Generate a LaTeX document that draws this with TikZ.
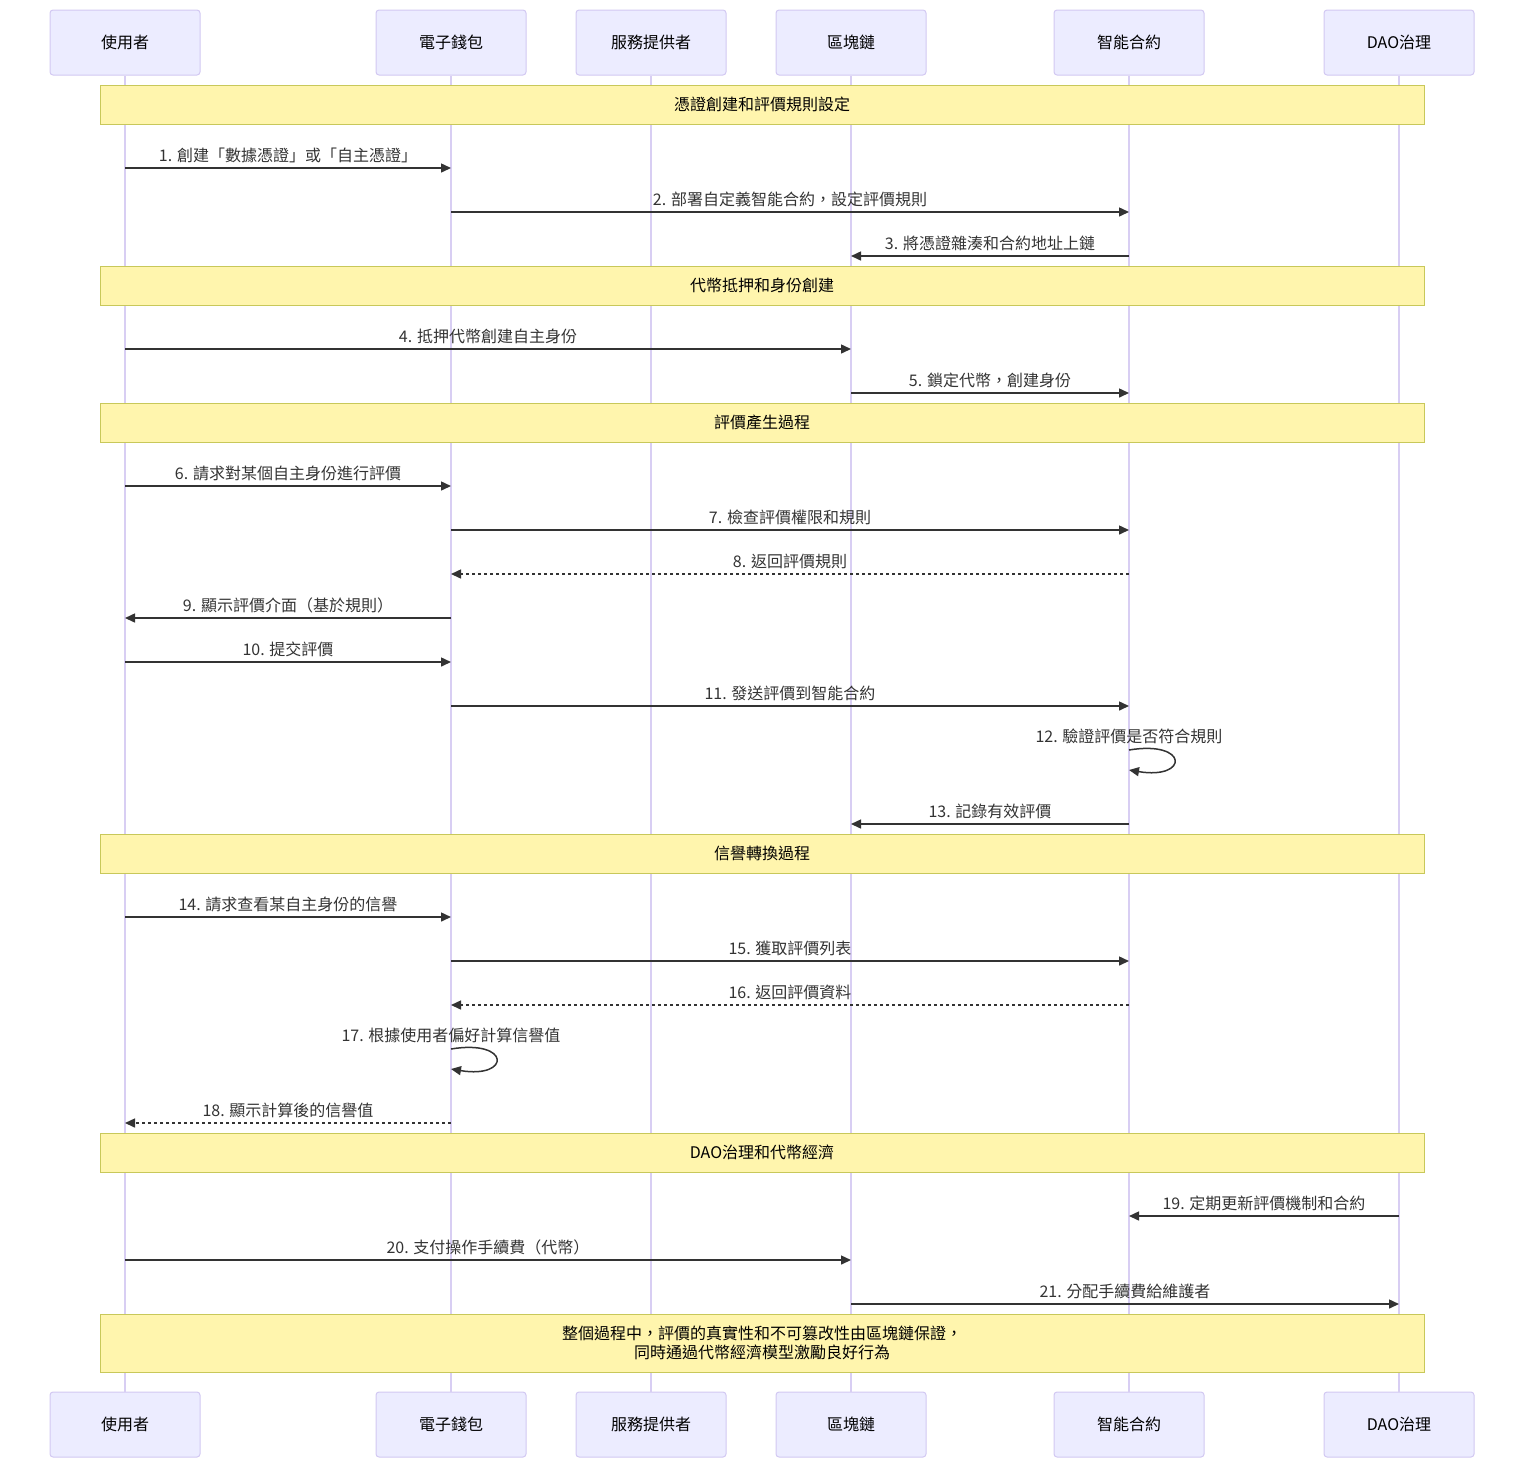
\documentclass[tikz,border=0pt]{standalone}
\usepackage{fontspec}
\setmainfont{Noto Sans CJK TC}
\usetikzlibrary{arrows.meta}
\definecolor{actfill}{HTML}{ECECFF}
\definecolor{actline}{HTML}{D2C8F2}
\definecolor{lifec}{HTML}{D8CEF3}
\definecolor{notefill}{HTML}{FFF5AD}
\definecolor{noteline}{HTML}{C8C85A}
\definecolor{msgc}{HTML}{333333}
\tikzset{
  actor/.style={draw=actline, fill=actfill, line width=1pt, rounded corners=3pt,
    minimum width=150pt, minimum height=65pt, inner sep=0pt,
    font=\fontsize{16}{19}\selectfont, text=black},
  lifeline/.style={draw=lifec, line width=1.2pt},
  notebox/.style={draw=noteline, fill=notefill, line width=1pt,
    minimum width=1324pt, inner sep=0pt, align=center,
    font=\fontsize{16}{19}\selectfont, text=black},
  msg/.style={draw=msgc, line width=1.5pt, -{Triangle[length=10pt,width=9pt]}},
  dmsg/.style={msg, dash pattern=on 3pt off 3pt},
  lbl/.style={font=\fontsize{16}{19}\selectfont, text=msgc, anchor=base, inner sep=0pt, yshift=7pt},
}
\begin{document}
\begin{tikzpicture}[x=1pt,y=1pt]
\useasboundingbox (0,0) rectangle (1524,-1468);
% participants top
\node[actor] (a1) at (125,-42.5) {使用者};
\node[actor] (a2) at (451,-42.5) {電子錢包};
\node[actor] (a3) at (651,-42.5) {服務提供者};
\node[actor] (a4) at (851,-42.5) {區塊鏈};
\node[actor] (a5) at (1129,-42.5) {智能合約};
\node[actor] (a6) at (1399,-42.5) {DAO治理};
% participants bottom
\node[actor] (b1) at (125,-1424.5) {使用者};
\node[actor] (b2) at (451,-1424.5) {電子錢包};
\node[actor] (b3) at (651,-1424.5) {服務提供者};
\node[actor] (b4) at (851,-1424.5) {區塊鏈};
\node[actor] (b5) at (1129,-1424.5) {智能合約};
\node[actor] (b6) at (1399,-1424.5) {DAO治理};
% lifelines
\foreach \i in {1,...,6} {\draw[lifeline] (a\i.south) -- (b\i.north);}
% notes
\node[notebox, minimum height=39pt] (n1) at (762,-104.5) {憑證創建和評價規則設定};
\node[notebox, minimum height=39pt] (n2) at (762,-285.5) {代幣抵押和身份創建};
\node[notebox, minimum height=39pt] (n3) at (762,-422.5) {評價產生過程};
\node[notebox, minimum height=39pt] (n4) at (762,-853.5) {信譽轉換過程};
\node[notebox, minimum height=39pt] (n5) at (762,-1152.5) {DAO治理和代幣經濟};
\node[notebox, minimum height=58pt] (n6) at (762,-1343) {整個過程中，評價的真實性和不可篡改性由區塊鏈保證，\\同時通過代幣經濟模型激勵良好行為};
% messages
\draw[msg] (a1 |- 0,-168) -- (a2 |- 0,-168) node[lbl, midway] {1. 創建「數據憑證」或「自主憑證」};
\draw[msg] (a2 |- 0,-212) -- (a5 |- 0,-212) node[lbl, midway] {2. 部署自定義智能合約，設定評價規則};
\draw[msg] (a5 |- 0,-256) -- (a4 |- 0,-256) node[lbl, midway] {3. 將憑證雜湊和合約地址上鏈};
\draw[msg] (a1 |- 0,-349) -- (a4 |- 0,-349) node[lbl, midway] {4. 抵押代幣創建自主身份};
\draw[msg] (a4 |- 0,-393) -- (a5 |- 0,-393) node[lbl, midway] {5. 鎖定代幣，創建身份};
\draw[msg] (a1 |- 0,-486) -- (a2 |- 0,-486) node[lbl, midway] {6. 請求對某個自主身份進行評價};
\draw[msg] (a2 |- 0,-530) -- (a5 |- 0,-530) node[lbl, midway] {7. 檢查評價權限和規則};
\draw[dmsg] (a5 |- 0,-574) -- (a2 |- 0,-574) node[lbl, midway] {8. 返回評價規則};
\draw[msg] (a2 |- 0,-618) -- (a1 |- 0,-618) node[lbl, midway] {9. 顯示評價介面（基於規則）};
\draw[msg] (a1 |- 0,-662) -- (a2 |- 0,-662) node[lbl, midway] {10. 提交評價};
\draw[msg] (a2 |- 0,-706) -- (a5 |- 0,-706) node[lbl, midway] {11. 發送評價到智能合約};
\coordinate (l12a) at (a5 |- 0,-750);
\coordinate (l12b) at (a5 |- 0,-770);
\node[lbl] (t12) at (a5 |- 0,-749) {12. 驗證評價是否符合規則};
\draw[msg] (l12a) .. controls +(60,10) and +(60,-10) .. (l12b);
\draw[msg] (a5 |- 0,-824) -- (a4 |- 0,-824) node[lbl, midway] {13. 記錄有效評價};
\draw[msg] (a1 |- 0,-917) -- (a2 |- 0,-917) node[lbl, midway] {14. 請求查看某自主身份的信譽};
\draw[msg] (a2 |- 0,-961) -- (a5 |- 0,-961) node[lbl, midway] {15. 獲取評價列表};
\draw[dmsg] (a5 |- 0,-1005) -- (a2 |- 0,-1005) node[lbl, midway] {16. 返回評價資料};
\coordinate (l17a) at (a2 |- 0,-1049);
\coordinate (l17b) at (a2 |- 0,-1069);
\node[lbl] (t17) at (a2 |- 0,-1048) {17. 根據使用者偏好計算信譽值};
\draw[msg] (l17a) .. controls +(60,10) and +(60,-10) .. (l17b);
\draw[dmsg] (a2 |- 0,-1123) -- (a1 |- 0,-1123) node[lbl, midway] {18. 顯示計算後的信譽值};
\draw[msg] (a6 |- 0,-1216) -- (a5 |- 0,-1216) node[lbl, midway] {19. 定期更新評價機制和合約};
\draw[msg] (a1 |- 0,-1260) -- (a4 |- 0,-1260) node[lbl, midway] {20. 支付操作手續費（代幣）};
\draw[msg] (a4 |- 0,-1304) -- (a6 |- 0,-1304) node[lbl, midway] {21. 分配手續費給維護者};
\end{tikzpicture}
\end{document}
